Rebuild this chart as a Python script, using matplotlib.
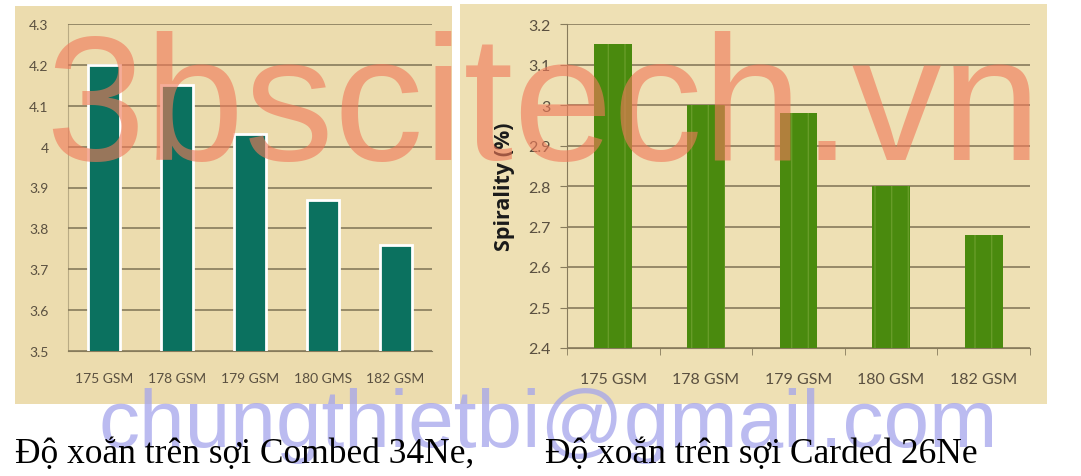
"""
Spirality (%) vs fabric GSM for Combed 34Ne and Carded 26Ne yarns.
"""

import matplotlib
matplotlib.use("Agg")
import matplotlib.pyplot as plt
from matplotlib.patches import Rectangle

# ── data ──────────────────────────────────────────────────────────────────────
combed_labels = ['175 GSM', '178 GSM', '179 GSM', '180 GMS', '182 GSM']
combed_vals   = [4.20, 4.15, 4.03, 3.87, 3.76]
combed_ticks  = [3.5, 3.6, 3.7, 3.8, 3.9, 4.0, 4.1, 4.2, 4.3]
combed_tlbls  = ['3.5', '3.6', '3.7', '3.8', '3.9', '4', '4.1', '4.2', '4.3']

carded_labels = ['175 GSM', '178 GSM', '179 GSM', '180 GSM', '182 GSM']
carded_vals   = [3.15, 3.00, 2.98, 2.80, 2.68]
carded_ticks  = [2.4, 2.5, 2.6, 2.7, 2.8, 2.9, 3.0, 3.1, 3.2]
carded_tlbls  = ['2.4', '2.5', '2.6', '2.7', '2.8', '2.9', '3', '3.1', '3.2']

captions = ['Độ xoắn trên sợi Combed 34Ne,', 'Độ xoắn trên sợi Carded 26Ne']

W, H = 1081, 477
PAPER  = '#ecdcae'
GRID   = '#877b5c'
TICKC  = '#5a5040'
TEAL   = '#0b715f'
GREEN  = '#4a8a0e'

fig = plt.figure(figsize=(W / 100, H / 100), dpi=100)
fig.patch.set_facecolor('white')


def fx(px):
    return px / W


def fy(py):
    return 1 - py / H


# papyrus backgrounds behind both charts
for x0, y0, x1, y1, col in [(15, 7, 452, 405, PAPER), (460, 5, 1047, 405, '#eee0b4')]:
    fig.patches.append(Rectangle((fx(x0), fy(y1)), fx(x1 - x0), (y1 - y0) / H,
                                 transform=fig.transFigure, facecolor=col,
                                 edgecolor='none', zorder=-5))

# ── Left panel: Combed 34Ne ───────────────────────────────────────────────────
ax = fig.add_axes([fx(68), fy(352), fx(432 - 68), (352 - 25) / H])
ax.set_facecolor('none')
ax.bar(range(len(combed_vals)), combed_vals, width=0.44, color=TEAL,
       edgecolor='white', linewidth=2, zorder=3)
ax.set_xlim(-0.5, len(combed_vals) - 0.5)
ax.set_ylim(combed_ticks[0], combed_ticks[-1])
ax.set_yticks(combed_ticks)
ax.set_yticklabels(combed_tlbls)
ax.set_xticks(range(len(combed_labels)))
ax.set_xticklabels(combed_labels)
ax.grid(axis='y', color=GRID, linewidth=1.2, zorder=1)
ax.tick_params(axis='both', length=0, labelsize=10, labelcolor=TICKC)
ax.tick_params(axis='y', pad=14)
ax.tick_params(axis='x', pad=15)
for s in ['top', 'right']:
    ax.spines[s].set_visible(False)
for s in ['left', 'bottom']:
    ax.spines[s].set_color(GRID)
ax.spines['left'].set_alpha(0.5)
for lab in ax.get_xticklabels() + ax.get_yticklabels():
    lab.set_family('Lato')

# ── Right panel: Carded 26Ne ──────────────────────────────────────────────────
ax = fig.add_axes([fx(567), fy(349), fx(1030 - 567), (349 - 25) / H])
ax.set_facecolor('none')
ax.bar(range(len(carded_vals)), carded_vals, width=0.41, color=GREEN,
       edgecolor='#679c28', linewidth=0, hatch='|', zorder=3)
ax.set_xlim(-0.5, len(carded_vals) - 0.5)
ax.set_ylim(carded_ticks[0], carded_ticks[-1])
ax.set_yticks(carded_ticks)
ax.set_yticklabels(carded_tlbls)
ax.set_xticks(range(len(carded_labels)))
ax.set_xticklabels(carded_labels)
ax.set_xticks([i - 0.5 for i in range(len(carded_labels) + 1)], minor=True)
ax.grid(axis='y', color=GRID, linewidth=1.2, zorder=1)
ax.tick_params(axis='y', length=5, color=GRID, labelsize=11.5,
               labelcolor=TICKC, pad=7)
ax.tick_params(axis='x', which='major', length=0, labelsize=11.5,
               labelcolor=TICKC, pad=17)
ax.tick_params(axis='x', which='minor', length=5, color=GRID)
for s in ['top', 'right']:
    ax.spines[s].set_visible(False)
for s in ['left', 'bottom']:
    ax.spines[s].set_color(GRID)
for lab in ax.get_xticklabels() + ax.get_yticklabels():
    lab.set_family('Lato')
ax.set_ylabel('Spirality (%)', fontsize=15.5, fontweight='bold',
              family='Open Sans', color='#1a1a1a', labelpad=9)

# ── captions ──────────────────────────────────────────────────────────────────
fig.text(fx(15), fy(463), captions[0], family='Liberation Serif',
         fontsize=25.5, va='baseline', ha='left', color='black', zorder=6)
fig.text(fx(545), fy(463), captions[1], family='Liberation Serif',
         fontsize=25.5, va='baseline', ha='left', color='black', zorder=6)

# ── watermarks ────────────────────────────────────────────────────────────────
fig.text(fx(45), fy(160), '3bscitech.vn', family='Liberation Sans',
         fontsize=129, color='#f07a5a', alpha=0.62, va='baseline', ha='left',
         zorder=5)
fig.text(fx(98), fy(447), 'chungthietbi@gmail.com', family='Liberation Sans',
         fontsize=59, color='#a4a4ec', alpha=0.75, va='baseline', ha='left',
         zorder=5)

fig.savefig('out.png', dpi=100)
